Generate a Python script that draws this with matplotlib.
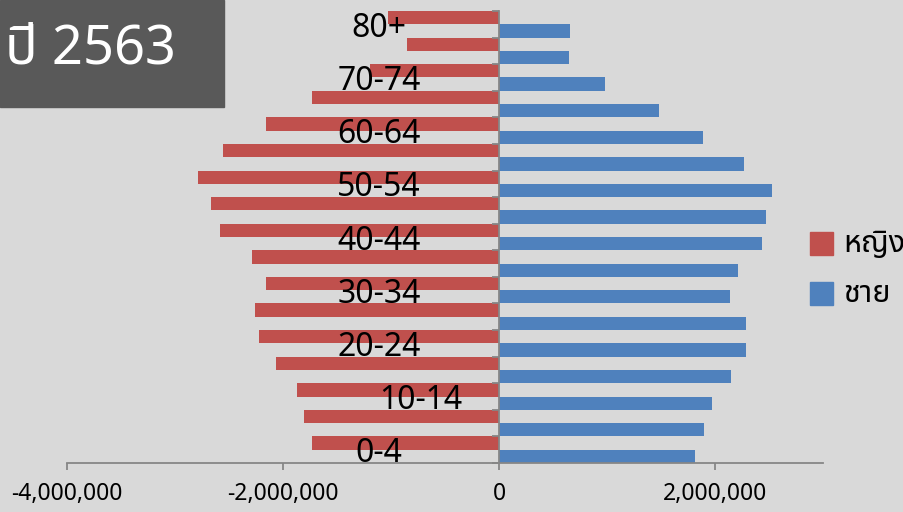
"""
Thai population pyramid, year 2563.
"""
import matplotlib
matplotlib.use("Agg")
import matplotlib.font_manager as fm
import matplotlib.pyplot as plt
from matplotlib.ft2font import FT2Font
from matplotlib.patches import Rectangle
from matplotlib.ticker import FuncFormatter

AGE_GROUPS = ["0-4", "5-9", "10-14", "15-19", "20-24", "25-29", "30-34",
              "35-39", "40-44", "45-49", "50-54", "55-59", "60-64", "65-69",
              "70-74", "75-79", "80+"]
# values, youngest group first
FEMALE = [1728000, 1809000, 1870000, 2062000, 2219000, 2259000, 2155000,
          2287000, 2583000, 2670000, 2787000, 2553000, 2160000, 1734000,
          1194000, 852000, 1028000]
MALE = [1818000, 1898000, 1972000, 2148000, 2284000, 2284000, 2139000,
        2210000, 2432000, 2469000, 2525000, 2272000, 1889000, 1478000,
        978000, 651000, 657000]
SHOWN_LABELS = ["0-4", "10-14", "20-24", "30-34", "40-44", "50-54", "60-64",
                "70-74", "80+"]
X_TICKS = [-4000000, -2000000, 0, 2000000]
LEGEND = ["หญิง", "ชาย"]
TITLE = "ปี 2563"

RED = "#C0504D"
BLUE = "#4F81BD"
BG = "#D9D9D9"
AXIS_GRAY = "#868686"


def find_thai_font() -> str:
  preferred = ["Tahoma", "Noto Sans Thai", "Noto Sans Thai UI", "Leelawadee UI",
               "Garuda", "Loma", "Umpush", "Kinnari", "Norasi", "Sawasdee",
               "TlwgTypo", "Waree", "Laksaman", "Sarabun"]
  found = []
  for f in fm.fontManager.ttflist:
    try:
      if 0x0E2B in FT2Font(f.fname).get_charmap():
        found.append(f.name)
    except Exception:
      pass
  for name in preferred:
    if name in found:
      return name
  return found[0] if found else "DejaVu Sans"


THAI_FONT = find_thai_font()
plt.rcParams["font.family"] = ["Noto Sans", THAI_FONT, "DejaVu Sans"]

fig = plt.figure(figsize=(9.04, 5.12), dpi=100, facecolor=BG)
ax = fig.add_axes([67 / 904, 49 / 512, 756 / 904, 452 / 512], facecolor=BG)

ys = list(range(len(AGE_GROUPS)))
ax.barh([y + 0.25 for y in ys], [-v for v in FEMALE], height=0.5,
        color=RED, linewidth=0)
ax.barh([y - 0.25 for y in ys], MALE, height=0.5, color=BLUE, linewidth=0)

ax.set_xlim(-4000000, 3000000)
ax.set_ylim(-0.5, len(AGE_GROUPS) - 0.5)

for side in ["top", "right"]:
  ax.spines[side].set_visible(False)
ax.spines["left"].set_position(("data", 0))
for side in ["left", "bottom"]:
  ax.spines[side].set_color(AXIS_GRAY)
  ax.spines[side].set_linewidth(1.3)

ax.set_xticks(X_TICKS)
ax.xaxis.set_major_formatter(FuncFormatter(lambda v, _: f"{v:,.0f}"))
ax.tick_params(axis="x", direction="out", length=5, width=1.3,
               color=AXIS_GRAY, labelsize=16.5, pad=9)
# category boundaries on the vertical axis
ax.set_yticks([y - 0.5 for y in ys] + [len(ys) - 0.5])
ax.tick_params(axis="y", direction="out", length=5, width=1.3,
               color=AXIS_GRAY, labelleft=False)

for y, name in enumerate(AGE_GROUPS):
  if name not in SHOWN_LABELS:
    continue
  x = -720000 if name == "10-14" else -1110000
  ax.text(x, y, name, ha="center", va="center_baseline", fontsize=23,
          color="black")

# legend
for i, (label, color) in enumerate(zip(LEGEND, [RED, BLUE])):
  top = 232 + i * 50
  fig.patches.append(Rectangle((810 / 904, 1 - (top + 23) / 512), 23 / 904,
                               23 / 512, transform=fig.transFigure,
                               color=color))
  fig.text(843 / 904, 1 - (top + 12) / 512, label, va="center", ha="left",
           fontsize=22, family=[THAI_FONT, "DejaVu Sans"])

# title box
fig.patches.append(Rectangle((0, 1 - 107 / 512), 224 / 904, 107 / 512,
                             transform=fig.transFigure, color="#595959"))
fig.text(5 / 904, 1 - 64 / 512, TITLE, va="baseline", ha="left",
         fontsize=39, color="white", family=[THAI_FONT, "DejaVu Sans"])

fig.savefig("out.png", dpi=100, facecolor=BG)
